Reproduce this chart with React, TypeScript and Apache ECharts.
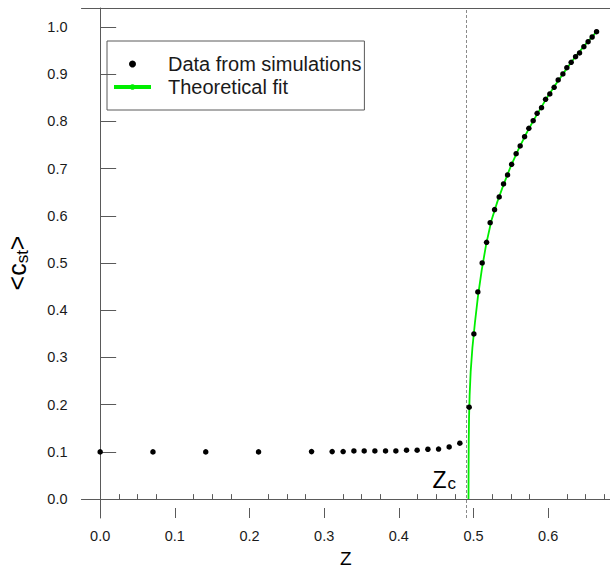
import React, { useEffect, useRef } from "react";
import * as echarts from "echarts";

// Simulation data (z, <c_st>)
const simZ = [
  0.0, 0.0707, 0.1414, 0.2121, 0.2831, 0.3107, 0.3254, 0.3398, 0.3536, 0.3679,
  0.3822, 0.396, 0.4103, 0.4245, 0.4389, 0.4532, 0.4674, 0.4817,
  0.4942, 0.5005, 0.5058, 0.5116, 0.5175, 0.5223, 0.5282, 0.5344, 0.5402,
  0.5456, 0.551, 0.5571, 0.5625, 0.5684, 0.5741, 0.5799, 0.5852, 0.5911,
  0.5965, 0.6022, 0.608, 0.6134, 0.6197, 0.625, 0.6308, 0.6367, 0.642,
  0.6478, 0.6535, 0.6589, 0.6648,
];
const simC = [
  0.1, 0.1, 0.1, 0.1, 0.1006, 0.1006, 0.1008, 0.102, 0.102, 0.102,
  0.102, 0.102, 0.1035, 0.1035, 0.1056, 0.106, 0.1105, 0.1184,
  0.1946, 0.3498, 0.4387, 0.5001, 0.5439, 0.5854, 0.613, 0.6398, 0.6674,
  0.6864, 0.7091, 0.7315, 0.7478, 0.7675, 0.7853, 0.8014, 0.8171, 0.8289,
  0.8467, 0.8579, 0.8721, 0.8876, 0.9003, 0.9136, 0.9251, 0.9369, 0.9448,
  0.9581, 0.9687, 0.9786, 0.9898,
];

// Theoretical fit curve
const fitZ = [
  0.4933, 0.4934, 0.4936, 0.494, 0.4948, 0.4962, 0.4985, 0.502, 0.506, 0.511,
  0.517, 0.524, 0.532, 0.54, 0.55, 0.56, 0.57, 0.58, 0.59, 0.6, 0.61, 0.62,
  0.63, 0.64, 0.65, 0.66, 0.666,
];
const fitC = [
  0.0, 0.06, 0.12, 0.17, 0.22, 0.27, 0.32, 0.375, 0.43, 0.485,
  0.54, 0.59, 0.63, 0.665, 0.705, 0.74, 0.772, 0.801, 0.828, 0.854, 0.878, 0.901,
  0.923, 0.944, 0.963, 0.981, 0.992,
];

const zCritical = 0.4933;

const xMajorTicks = [0, 0.1, 0.2, 0.3, 0.4, 0.5, 0.6];
const xMinorTicks = [
  0.025, 0.05, 0.075, 0.125, 0.15, 0.175, 0.225, 0.25, 0.275, 0.325, 0.35,
  0.375, 0.425, 0.45, 0.475, 0.525, 0.55, 0.575, 0.625, 0.65, 0.675,
];
const yTicks = [0, 0.1, 0.2, 0.3, 0.4, 0.5, 0.6, 0.7, 0.8, 0.9, 1.0];

const FONT = "'Liberation Sans', Arial, sans-serif";
const FRAME = "#5a5a5a";
const TEXT = "#1a1a1a";

export default function App() {
  const ref = useRef<HTMLDivElement>(null);

  useEffect(() => {
    if (!ref.current) return;
    const chart = echarts.init(ref.current, undefined, { renderer: "svg" });
    const xMin = -0.025;
    const xMax = 0.6828;
    const option: any = {
      animation: false,
      textStyle: { fontFamily: FONT },
      grid: { left: 81.5, right: 0, top: 8, bottom: 50, containLabel: false, outerBoundsMode: "none" },
      legend: {
        orient: "vertical",
        left: 107,
        top: 41,
        padding: [13, 3, 13, 5],
        itemGap: 3,
        itemWidth: 37,
        itemHeight: 7,
        borderColor: FRAME,
        borderWidth: 1,
        textStyle: { fontSize: 20, color: TEXT, fontFamily: FONT, padding: [0, 0, 0, 12] },
        data: [
          { name: "Data from simulations", icon: "circle", itemStyle: { color: "#000", opacity: 1 } },
          { name: "Theoretical fit", lineStyle: { width: 4, color: "#00ee00" } },
        ],
      },
      xAxis: [
        {
          type: "value",
          min: xMin,
          max: xMax,
          position: "bottom",
          axisLine: { show: true, lineStyle: { color: FRAME, width: 1 } },
          axisTick: { show: true, inside: true, length: 5, customValues: xMinorTicks, lineStyle: { color: FRAME } },
          axisLabel: { show: false },
          splitLine: { show: false },
        },
        {
          type: "value",
          min: xMin,
          max: xMax,
          position: "bottom",
          axisLine: { show: false },
          axisTick: { show: true, inside: true, length: 10, customValues: xMajorTicks, lineStyle: { color: FRAME } },
          axisLabel: {
            show: true,
            customValues: xMajorTicks,
            formatter: (v: number) => v.toFixed(1),
            fontSize: 14.5,
            color: TEXT,
            margin: 10,
            fontFamily: FONT,
          },
          splitLine: { show: false },
          name: "Z",
          nameLocation: "middle",
          nameGap: 31,
          nameTextStyle: { fontSize: 19, lineHeight: 18, color: "#000", fontFamily: FONT },
        },
        {
          type: "value",
          min: xMin,
          max: xMax,
          position: "top",
          axisLine: { show: true, lineStyle: { color: FRAME, width: 1 } },
          axisTick: { show: false },
          axisLabel: { show: false },
          splitLine: { show: false },
        },
      ],
      yAxis: [
        {
          type: "value",
          min: -0.04,
          max: 1.04,
          position: "left",
          axisLine: { show: true, lineStyle: { color: FRAME, width: 1 } },
          axisTick: { show: true, inside: true, length: 16, customValues: yTicks, lineStyle: { color: FRAME } },
          axisLabel: {
            show: true,
            customValues: yTicks,
            formatter: (v: number) => v.toFixed(1),
            fontSize: 14.5,
            color: TEXT,
            margin: 14,
            fontFamily: FONT,
          },
          splitLine: { show: false },
          name: "{a|<c}{b|st}{a|>}",
          nameLocation: "middle",
          nameRotate: 90,
          nameGap: 51,
          nameTextStyle: {
            fontFamily: FONT,
            rich: {
              a: { fontSize: 25, color: "#000", fontFamily: FONT },
              b: { fontSize: 17, color: "#000", fontFamily: FONT, padding: [10, 0, 0, 0] },
            },
          },
        },
      ],
      series: [
        {
          name: "Theoretical fit",
          type: "line",
          symbol: "none",
          data: fitZ.map((z, i) => [z, fitC[i]]),
          lineStyle: { color: "#00ee00", width: 1.8 },
          itemStyle: { color: "#00ee00" },
          z: 3,
          markLine: {
            silent: true,
            symbol: ["none", "none"],
            label: { show: false },
            data: [
              { yAxis: 0, lineStyle: { type: "solid", color: FRAME, width: 1 } },
              { xAxis: zCritical, lineStyle: { type: [3, 2], color: "#8a8a8a", width: 1 } },
            ],
            z: 1,
          },
        },
        {
          name: "Data from simulations",
          type: "scatter",
          symbol: "circle",
          symbolSize: 5.5,
          data: simZ.map((z, i) => [z, simC[i]]),
          itemStyle: { color: "#000", opacity: 1 },
          z: 4,
          markPoint: {
            silent: true,
            symbol: "circle",
            symbolSize: 0,
            data: [
              {
                coord: [zCritical, 0],
                label: {
                  show: true,
                  position: [-36, -31],
                  formatter: "{a|Z}{b|c}",
                  rich: {
                    a: { fontSize: 23, color: "#000", fontFamily: FONT },
                    b: { fontSize: 17, color: "#000", fontFamily: FONT, padding: [7, 0, 0, 1] },
                  },
                },
              },
            ],
          },
        },
      ],
    };
    chart.setOption(option);
    return () => chart.dispose();
  }, []);

  return (
    <div
      ref={ref}
      style={{ position: "absolute", left: 0, top: 0, width: 610, height: 568, background: "#fff" }}
    />
  );
}
